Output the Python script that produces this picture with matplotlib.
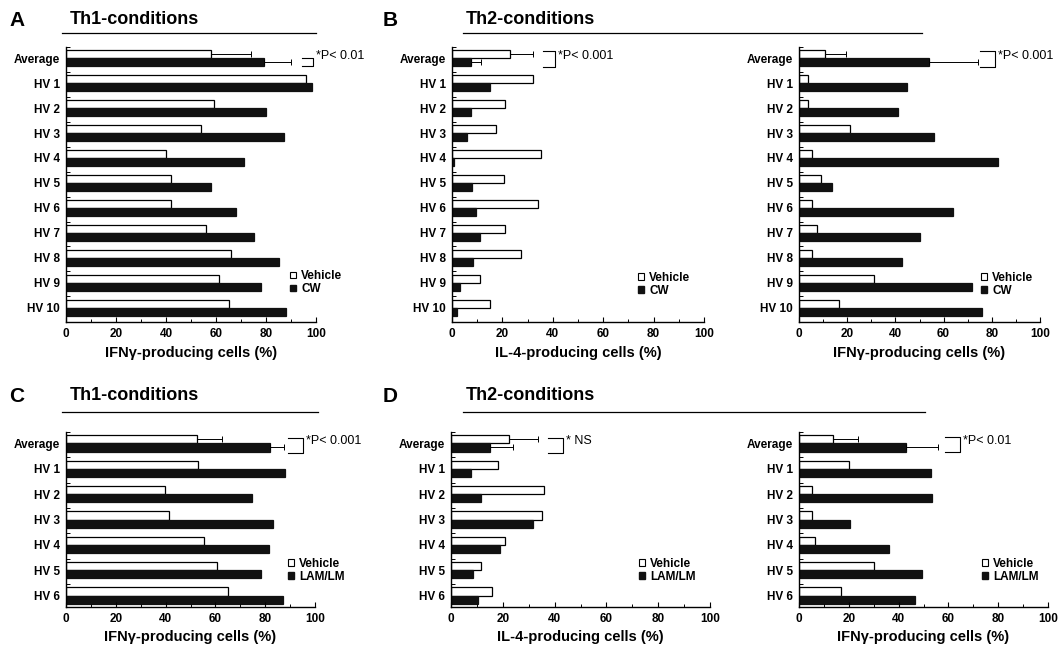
import matplotlib
matplotlib.use('Agg')
import matplotlib.pyplot as plt
from matplotlib.patches import Patch
from matplotlib.lines import Line2D

plt.rcParams['font.family'] = ['Liberation Sans', 'DejaVu Sans']

W, H = 1060, 649

# ---------------------------------------------------------------
# data (% of cells)
cats_10 = ['Average', 'HV 1', 'HV 2', 'HV 3', 'HV 4', 'HV 5',
           'HV 6', 'HV 7', 'HV 8', 'HV 9', 'HV 10']
cats_6 = ['Average', 'HV 1', 'HV 2', 'HV 3', 'HV 4', 'HV 5', 'HV 6']

# A: Th1, IFN-gamma, vehicle vs CW
a_vehicle = [58, 96, 59, 54, 40, 42, 42, 56, 66, 61, 65]
a_cw = [79, 98.5, 80, 87, 71, 58, 68, 75, 85, 78, 88]
a_err = [16, 11]

# B: Th2, IL-4 and IFN-gamma, vehicle vs CW
b_il4_vehicle = [23, 32, 21, 17.5, 35.5, 20.5, 34, 21, 27.5, 11, 15]
b_il4_cw = [7.5, 15, 7.5, 6, 0.6, 8, 9.6, 11, 8.5, 3.3, 2]
b_il4_err = [9, 4]
b_ifn_vehicle = [10.7, 3.7, 3.7, 21, 5.4, 9, 5.4, 7.3, 5.4, 31, 16.7]
b_ifn_cw = [54, 44.7, 41, 56, 82.5, 13.7, 63.7, 50, 42.6, 71.7, 76]
b_ifn_err = [9, 20.3]

# C: Th1, IFN-gamma, vehicle vs LAM/LM
c_vehicle = [52.5, 53, 39.7, 41.5, 55.4, 60.6, 65]
c_lam = [82, 88, 74.7, 83, 81.6, 78.5, 87.2]
c_err = [10, 5.4]

# D: Th2, IL-4 and IFN-gamma, vehicle vs LAM/LM
d_il4_vehicle = [22.5, 18, 36, 35.3, 21, 11.5, 16]
d_il4_lam = [15, 7.6, 11.5, 31.5, 19, 8.6, 10.5]
d_il4_err = [11, 9]
d_ifn_vehicle = [13.8, 20.2, 5.3, 5.3, 6.6, 30.2, 16.7]
d_ifn_lam = [43, 53, 53.3, 20.6, 36, 49.4, 46.6]
d_ifn_err = [10, 12.7]

xlab_ifn = 'IFN\u03b3-producing cells (%)'
xlab_il4 = 'IL-4-producing cells (%)'


def rect(x0, y0, x1, y1):
    # pixel box -> figure fraction
    return [x0 / W, 1 - y1 / H, (x1 - x0) / W, (y1 - y0) / H]


def panel(ax, cats, veh, trt, err, trt_name, xlabel, ylim, sig, bracket, leg_xy):
    n = len(cats)
    pos = list(range(n))
    h = 0.32
    ax.barh([p - h / 2 for p in pos], veh, height=h, color='white',
            edgecolor='black', linewidth=0.9)
    ax.barh([p + h / 2 for p in pos], trt, height=h, color='#111111',
            edgecolor='#111111', linewidth=0.9)
    # one-sided error bars on the averages
    ax.errorbar(veh[0], -h / 2, xerr=[[0], [err[0]]], fmt='none', ecolor='black',
                elinewidth=0.7, capsize=2.4, capthick=0.7)
    ax.errorbar(trt[0], h / 2, xerr=[[0], [err[1]]], fmt='none', ecolor='black',
                elinewidth=0.7, capsize=2.4, capthick=0.7)

    ax.set_xlim(0, 100)
    ax.set_ylim(*ylim)
    ax.set_yticks(pos)
    ax.set_yticklabels(cats, fontsize=8.5, fontweight='bold')
    ax.set_yticks([p - 0.45 for p in pos], minor=True)
    ax.tick_params(axis='y', which='major', length=0, pad=4.5)
    ax.tick_params(axis='y', which='minor', direction='in', length=3, width=0.7)
    ax.set_xticks([0, 20, 40, 60, 80, 100])
    ax.set_xticks([10, 30, 50, 70, 90], minor=True)
    ax.tick_params(axis='x', which='major', direction='in', length=3.5, width=0.8,
                   labelsize=8.5, pad=4)
    ax.tick_params(axis='x', which='minor', direction='in', length=2, width=0.7)
    for lbl in ax.get_xticklabels():
        lbl.set_fontweight('bold')
    ax.set_xlabel(xlabel, fontsize=10.5, fontweight='bold', labelpad=4)
    for s in ['top', 'right']:
        ax.spines[s].set_visible(False)
    for s in ['left', 'bottom']:
        ax.spines[s].set_linewidth(1.0)

    # significance bracket
    bx0, bx1, by0, by1 = bracket
    ax.plot([bx0, bx1, bx1, bx0], [by0, by0, by1, by1], color='black',
            linewidth=0.8, clip_on=False)
    ax.text(bx1 + 1.2, -0.1, sig, fontsize=9, va='center', ha='left',
            clip_on=False)

    handles = [Patch(facecolor='white', edgecolor='black', linewidth=0.8),
               Patch(facecolor='#111111', edgecolor='#111111')]
    ax.legend(handles, ['Vehicle', trt_name], loc='upper left', bbox_to_anchor=leg_xy,
              frameon=False, handlelength=0.5, handleheight=0.5, handletextpad=0.45,
              labelspacing=0.08, borderpad=0, borderaxespad=0,
              prop={'size': 8.5, 'weight': 'bold'})


fig = plt.figure(figsize=(W / 100, H / 100), dpi=100)
fig.patch.set_facecolor('white')

top_ylim = (10.6, -0.45)
bot_ylim = (6.45, -0.42)

ax_a = fig.add_axes(rect(66, 47, 316, 322.5))
panel(ax_a, cats_10, a_vehicle, a_cw, a_err, 'CW', xlab_ifn, top_ylim,
      '*P< 0.01', (94.4, 98.8, 0.0, 0.3), (0.896, 0.19))

ax_b1 = fig.add_axes(rect(452, 47, 704, 322.5))
panel(ax_b1, cats_10, b_il4_vehicle, b_il4_cw, b_il4_err, 'CW', xlab_il4, top_ylim,
      '*P< 0.001', (36.1, 40.9, -0.3, 0.35), (0.738, 0.184))

ax_b2 = fig.add_axes(rect(799, 47, 1040, 322.5))
panel(ax_b2, cats_10, b_ifn_vehicle, b_ifn_cw, b_ifn_err, 'CW', xlab_ifn, top_ylim,
      '*P< 0.001', (75.1, 81.3, -0.3, 0.35), (0.755, 0.184))

ax_c = fig.add_axes(rect(66, 432, 315, 607))
panel(ax_c, cats_6, c_vehicle, c_lam, c_err, 'LAM/LM', xlab_ifn, bot_ylim,
      '*P< 0.001', (89.2, 95.2, -0.2, 0.38), (0.89, 0.28))

ax_d1 = fig.add_axes(rect(451, 432, 710, 607))
panel(ax_d1, cats_6, d_il4_vehicle, d_il4_lam, d_il4_err, 'LAM/LM', xlab_il4, bot_ylim,
      '* NS', (37.5, 43.2, -0.23, 0.37), (0.726, 0.28))

ax_d2 = fig.add_axes(rect(799, 432, 1048, 607))
panel(ax_d2, cats_6, d_ifn_vehicle, d_ifn_lam, d_ifn_err, 'LAM/LM', xlab_ifn, bot_ylim,
      '*P< 0.01', (58.6, 64.7, -0.25, 0.33), (0.735, 0.28))

# panel letters, condition titles and their underlines
titles = [('A', 17, 20, 'Th1-conditions', 70, 62, 316, 33),
          ('B', 390, 20, 'Th2-conditions', 466, 463, 922, 33),
          ('C', 17, 396, 'Th1-conditions', 70, 62, 318, 411.5),
          ('D', 390, 396, 'Th2-conditions', 466, 463, 925, 411.5)]
for letter, lx, ly, name, tx, u0, u1, uy in titles:
    fig.text(lx / W, 1 - ly / H, letter, fontsize=15, fontweight='bold',
             ha='center', va='center')
    fig.text(tx / W, 1 - ly / H, name, fontsize=13, fontweight='bold',
             ha='left', va='center')
    fig.add_artist(Line2D([u0 / W, u1 / W], [1 - uy / H, 1 - uy / H],
                          color='black', linewidth=0.9))

fig.savefig('out.png', dpi=100, facecolor='white')
